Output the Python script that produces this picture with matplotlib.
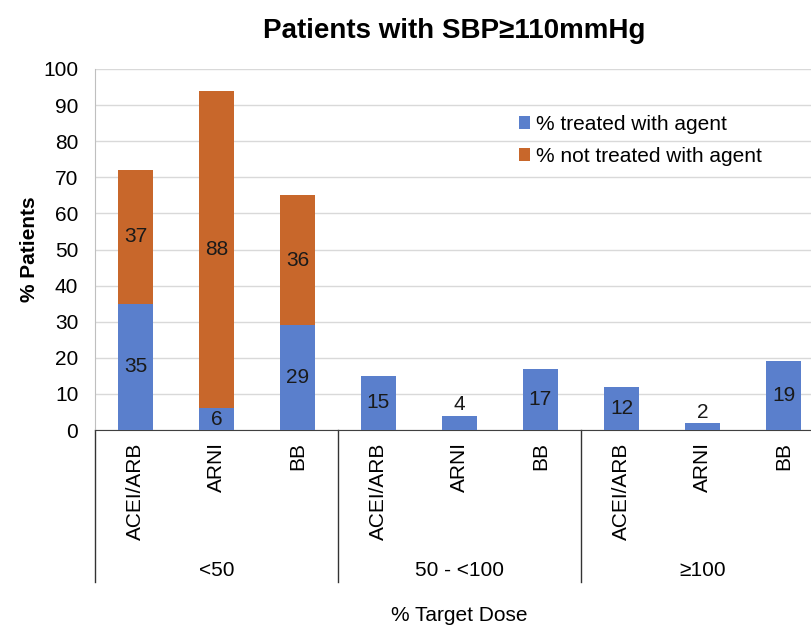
import numpy as np
import matplotlib
matplotlib.use("Agg")
import matplotlib.pyplot as plt
from matplotlib import rcParams

rcParams['font.family'] = ['Liberation Sans', 'DejaVu Sans']
rcParams['font.size'] = 15

# Data
groups = ["<50", "50 - <100", "≥100"]
agents = ["ACEI/ARB", "ARNI", "BB"]
treated = [35, 6, 29, 15, 4, 17, 12, 2, 19]
not_treated = [37, 88, 36, 0, 0, 0, 0, 0, 0]

blue = "#5A7FCC"
orange = "#C8672B"

fig = plt.figure(figsize=(8.12, 6.28), dpi=100)
ax = fig.add_axes([95/812, 198/628, 729/812, 361/628])

x = np.arange(len(treated))
w = 0.42
ax.bar(x, treated, w, color=blue, label="% treated with agent", zorder=3)
ax.bar(x, not_treated, w, bottom=treated, color=orange,
       label="% not treated with agent", zorder=3)

# value labels
for xi, t, n in zip(x, treated, not_treated):
    if t >= 5:
        ax.text(xi, t/2, str(t), ha="center", va="center", color="#1a1a1a", zorder=4)
    else:
        ax.text(xi, t + 0.3, str(t), ha="center", va="bottom", color="#1a1a1a", zorder=4)
    if n > 0:
        ax.text(xi, t + n/2, str(n), ha="center", va="center", color="#1a1a1a", zorder=4)

ax.set_ylim(0, 100)
ax.set_xlim(-0.5, len(treated) - 0.5)
ax.set_yticks(range(0, 101, 10))
ax.yaxis.grid(True, color="#D9D9D9", linewidth=1, zorder=0)
ax.set_axisbelow(True)
for s in ["top", "right"]:
    ax.spines[s].set_visible(False)
ax.spines["left"].set_color("#BFBFBF")
ax.spines["bottom"].set_color("#404040")
ax.tick_params(axis="y", length=0, pad=12, labelsize=15)

ax.set_xticks(x, agents * len(groups), rotation=90)
ax.tick_params(axis="x", length=0, pad=9, labelsize=15)

# group separators and labels below the axis
tr = ax.get_xaxis_transform()
for i in range(len(groups) + 1):
    ax.plot([i*3 - 0.5, i*3 - 0.5], [0, -0.422], transform=tr, color="#333333",
            linewidth=1, clip_on=False)
for i, g in enumerate(groups):
    ax.text(i*3 + 1, -0.388, g, transform=tr, ha="center", va="center")

ax.text(0.5, -0.515, "% Target Dose", transform=ax.transAxes, ha="center", va="center")
ax.set_ylabel("% Patients", fontweight="bold", fontsize=15, labelpad=3)
ax.set_title("Patients with SBP≥110mmHg", fontweight="bold", fontsize=20, pad=22, x=0.493)

ax.legend(loc="upper right", bbox_to_anchor=(0.941, 0.925), frameon=False,
          handlelength=0.55, handleheight=0.55, handletextpad=0.3, labelspacing=0.62,
          fontsize=15)

fig.savefig("out.png", dpi=100)
